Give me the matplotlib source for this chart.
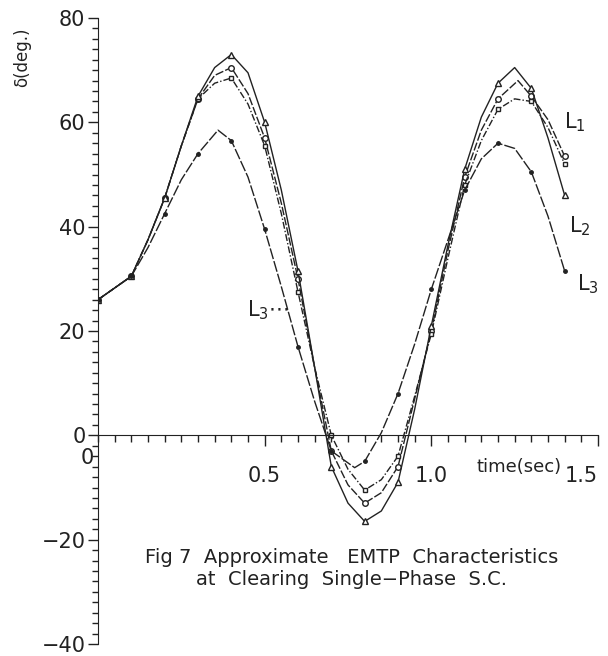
import numpy as np
import matplotlib
matplotlib.use('Agg')
import matplotlib.pyplot as plt
from matplotlib.ticker import MultipleLocator

plt.rcParams['font.family'] = ['DejaVu Sans']

# time points (s) and delta (deg); markers sit on the 0.1 s points
t_a = [0, 0.1, 0.15, 0.2, 0.25, 0.3, 0.35, 0.4, 0.45, 0.5, 0.55, 0.6, 0.65, 0.7, 0.75, 0.8,
       0.85, 0.9, 0.95, 1.0, 1.05, 1.1, 1.15, 1.2, 1.25, 1.3, 1.35, 1.4]
d_a = [26, 30.5, 37.5, 45.5, 55.5, 65, 70.5, 73, 69.5, 60, 47, 31.5, 13, -6, -13, -16.5,
       -14.5, -9, 5, 21, 36.5, 51, 61, 67.5, 70.5, 66.5, 57, 46]   # L2 (triangles)

t_b = [0, 0.1, 0.15, 0.2, 0.25, 0.3, 0.35, 0.4, 0.45, 0.5, 0.55, 0.6, 0.65, 0.7, 0.75, 0.8,
       0.85, 0.9, 0.95, 1.0, 1.05, 1.1, 1.15, 1.2, 1.26, 1.3, 1.35, 1.4]
d_b = [26, 30.5, 37.5, 45.5, 55.5, 64.5, 69, 70.5, 65.5, 57, 44.5, 30, 13, -3, -9.5, -13,
       -11, -6, 7, 20, 35.5, 49.5, 58.5, 64.5, 68, 65, 60.5, 53.5]   # L1

t_c = [0, 0.1, 0.15, 0.2, 0.25, 0.3, 0.35, 0.4, 0.45, 0.5, 0.55, 0.6, 0.65, 0.7, 0.75, 0.8,
       0.85, 0.9, 0.95, 1.0, 1.05, 1.1, 1.15, 1.2, 1.25, 1.3, 1.35, 1.4]
d_c = [26, 30.5, 37.5, 45.5, 55.5, 64.5, 67.5, 68.5, 63.5, 55.5, 42.5, 27.5, 13, 0, -6.5, -10.5,
       -8.5, -4, 7.5, 19.5, 34, 48, 56.5, 62.5, 64.5, 64, 59, 52]

t_3 = [0, 0.1, 0.15, 0.2, 0.25, 0.3, 0.36, 0.4, 0.45, 0.5, 0.55, 0.6, 0.65, 0.7, 0.77, 0.8,
       0.85, 0.9, 0.95, 1.0, 1.05, 1.1, 1.15, 1.2, 1.25, 1.3, 1.35, 1.4]
d_3 = [26, 30.5, 36, 42.5, 49, 54, 58.5, 56.5, 49.5, 39.5, 28.5, 17, 6.5, -3, -6.2, -5,
       0.5, 8, 17.5, 28, 37.5, 47, 53, 56, 55, 50.5, 42, 31.5]   # L3

y_ticks = [-40, -20, 0, 20, 40, 60, 80]
x_ticks = [0.5, 1.0, 1.5]
caption = "Fig 7  Approximate   EMTP  Characteristics\nat  Clearing  Single\u2212Phase  S.C."

fig = plt.figure(figsize=(6.08, 6.56), dpi=100)
ax = fig.add_axes([98/608, 1-644/656, 500/608, 626/656])

def grid_idx(t):
    t = np.asarray(t)
    return list(np.where(np.isclose(t*10, np.round(t*10)))[0])

ink = '#222222'
ax.plot(t_b, d_b, color=ink, lw=1.0, ls=(0, (6, 1.5)), marker='o', ms=4, mfc='white',
        markevery=grid_idx(t_b))
ax.plot(t_c, d_c, color=ink, lw=1.0, ls=(0, (5, 1.5, 1, 1.5)), marker='s', ms=3.5, mfc='white',
        markevery=grid_idx(t_c))
ax.plot(t_a, d_a, color=ink, lw=1.0, marker='^', ms=5, mfc='white',
        markevery=grid_idx(t_a))
ax.plot(t_3, d_3, color=ink, lw=1.0, ls=(0, (8, 1.5)), marker='o', ms=2.5, mfc=ink,
        markevery=grid_idx(t_3))

ax.set_xlim(0, 1.5)
ax.set_ylim(-40, 80)
for s in ['top', 'right']:
    ax.spines[s].set_visible(False)
ax.spines['bottom'].set_position(('data', 0))
ax.spines['bottom'].set_color(ink)
ax.spines['left'].set_color(ink)

ax.yaxis.set_minor_locator(MultipleLocator(2))
ax.xaxis.set_minor_locator(MultipleLocator(0.05))
ax.set_yticks(y_ticks)
ax.set_yticklabels([str(v).replace('-', '\u2212') for v in y_ticks])
ax.set_xticks(x_ticks)
ax.set_xticklabels(['0.5', '1.0', '1.5'])
ax.tick_params(axis='y', which='major', length=7, width=1, direction='out', labelsize=15, pad=2, colors=ink)
ax.tick_params(axis='y', which='minor', length=4, width=1, direction='out', colors=ink)
ax.tick_params(axis='x', which='major', length=8, width=1, direction='out', labelsize=15, pad=14, colors=ink)
ax.tick_params(axis='x', which='minor', length=5, width=1, direction='out', colors=ink)
ax.xaxis.get_majorticklabels()[-1].set_horizontalalignment('right')

ax.text(-0.012, -2.5, '0', ha='right', va='top', fontsize=15, color=ink)
ax.text(1.39, -6.0, 'time(sec)', ha='right', va='center', fontsize=13, color=ink)
fig.text(22/608, 1-57/656, '\u03b4(deg.)', rotation=90, ha='center', va='center', fontsize=12, color=ink)

ax.text(1.43, 60, '$\\mathrm{L_1}$', ha='center', va='center', fontsize=15, color=ink)
ax.text(1.445, 40, '$\\mathrm{L_2}$', ha='center', va='center', fontsize=15, color=ink)
ax.text(1.47, 29, '$\\mathrm{L_3}$', ha='center', va='center', fontsize=15, color=ink)
ax.text(0.447, 24, '$\\mathrm{L_3}\\cdots$', ha='left', va='center', fontsize=15, color=ink)

ax.text(0.76, -25.5, caption, ha='center', va='center', fontsize=14, color=ink, linespacing=1.2)

fig.savefig('out.png', dpi=100)
